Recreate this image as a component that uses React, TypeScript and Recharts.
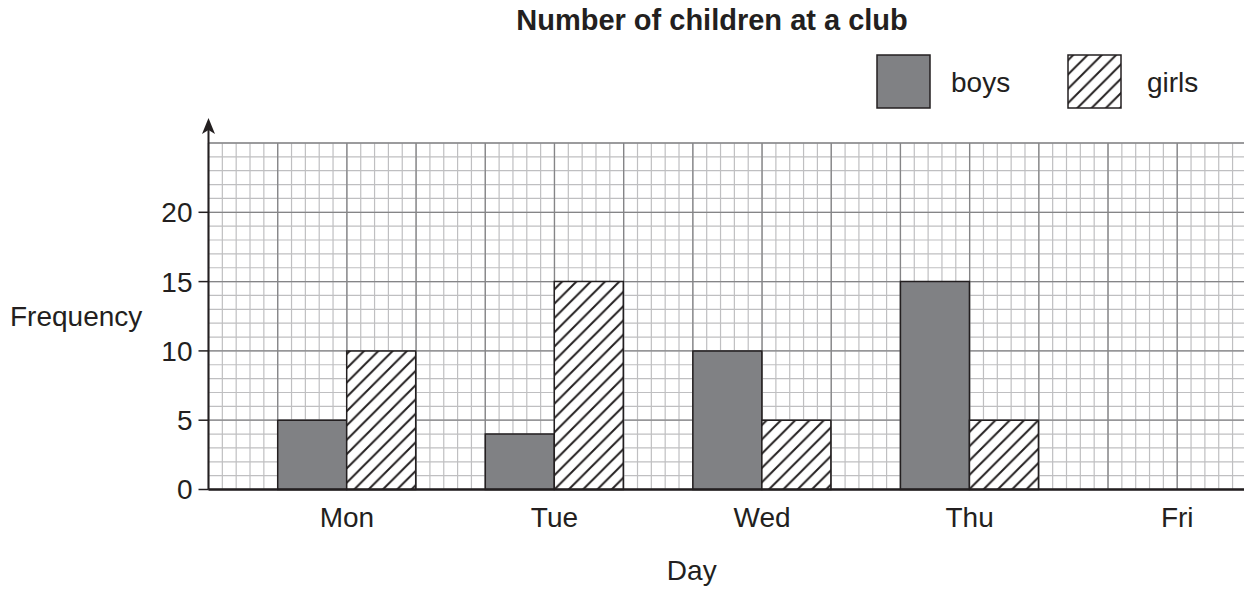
import React from 'react';
import { BarChart, Bar, XAxis, YAxis, CartesianGrid, Legend, ReferenceLine } from 'recharts';

// ---- data ----
const days = ['Mon', 'Tue', 'Wed', 'Thu', 'Fri'];
const boys = [5, 4, 10, 15, 0];
const girls = [10, 15, 5, 5, 0];
const yTicks = [0, 5, 10, 15, 20];
const seriesNames = { boys: 'boys', girls: 'girls' };

const data = days.map((d, i) => ({ day: d, boys: boys[i], girls: girls[i] }));

// grid values (in grid-column units across the plot; 15.5 columns wide)
const GRID_COLS = 15.5;
const minorX = Array.from({ length: 78 }, (_, i) => Math.round(i * 2) / 10);
const majorX = Array.from({ length: 16 }, (_, i) => i);
const minorY = Array.from({ length: 26 }, (_, i) => i);
const majorY = [0, 5, 10, 15, 20, 25];

const INK = '#231f20';
const GRAY = '#808184';
const FONT = '"Liberation Sans", Arial, Helvetica, sans-serif';

const HatchPattern = ({ id }: { id: string }) => (
  <pattern id={id} patternUnits="userSpaceOnUse" width={14.3} height={14.3}>
    <rect x={0} y={0} width={14.3} height={14.3} fill="#ffffff" />
    <path
      d="M-3.6,3.6 L3.6,-3.6 M0,14.3 L14.3,0 M10.7,17.9 L17.9,10.7"
      stroke={INK}
      strokeWidth={2}
    />
  </pattern>
);

const LegendContent = (props: any) => {
  const payload = (props.payload || []).filter((p: any) => p.dataKey === 'boys' || p.dataKey === 'girls');
  const slots = [
    { box: 2, text: 76 },
    { box: 193, text: 272 },
  ];
  return (
    <svg width={360} height={60} style={{ display: 'block', overflow: 'visible' }}>
      <defs>
        <HatchPattern id="hatchLegend" />
      </defs>
      {payload.map((p: any, i: number) => (
        <g key={p.dataKey}>
          <rect
            x={slots[i].box}
            y={2}
            width={53}
            height={53}
            fill={p.dataKey === 'boys' ? GRAY : 'url(#hatchLegend)'}
            stroke={INK}
            strokeWidth={1.5}
          />
          <text x={slots[i].text} y={39} fontSize={28} fill={INK} fontFamily={FONT}>
            {p.value}
          </text>
        </g>
      ))}
    </svg>
  );
};

const ArrowShape = (p: any) => {
  const { x1, y1, x2, y2 } = p;
  return (
    <g>
      <line x1={x1} y1={y1} x2={x2} y2={y2 + 12} stroke={INK} strokeWidth={2} />
      <path d={`M${x2},${y2} L${x2 - 6.5},${y2 + 16} L${x2},${y2 + 12} L${x2 + 6.5},${y2 + 16} Z`} fill={INK} />
    </g>
  );
};

const colGenerator = (values: number[]) => ({ offset }: any) =>
  values.map((v) => offset.left + (v * offset.width) / GRID_COLS);

export default function App() {
  return (
    <div style={{ width: 1244, height: 589, overflow: 'hidden', position: 'relative', fontFamily: FONT, background: '#fff' }}>
      <style>{`body{margin:0;}`}</style>
      <div
        style={{
          position: 'absolute',
          top: 6,
          left: 312,
          width: 800,
          textAlign: 'center',
          fontWeight: 'bold',
          fontSize: 29,
          lineHeight: '29px',
          color: INK,
          zIndex: 2,
        }}
      >
        Number of children at a club
      </div>
      <BarChart
        width={1281}
        height={589}
        data={data}
        margin={{ top: 143, right: 0, bottom: 39.5, left: 0 }}
        barCategoryGap="16.67%"
        barGap={0}
        style={{ fontFamily: FONT }}
      >
        <defs>
          <HatchPattern id="hatch" />
        </defs>
        <XAxis xAxisId="g" type="number" domain={[0, GRID_COLS]} allowDataOverflow hide />
        <CartesianGrid
          yAxisId={0}
          verticalCoordinatesGenerator={colGenerator(minorX)}
          horizontalValues={minorY}
          stroke="#bfbfc1"
          strokeWidth={1.2}
        />
        <CartesianGrid
          yAxisId={0}
          verticalCoordinatesGenerator={colGenerator(majorX)}
          horizontalValues={majorY}
          stroke="#858587"
          strokeWidth={1.3}
        />
        <XAxis
          dataKey="day"
          padding={{ left: 34.6, right: 0 }}
          interval={0}
          tickLine={false}
          axisLine={{ stroke: INK, strokeWidth: 2.5 }}
          tick={{ fontSize: 28, fill: INK }}
          tickSize={6}
          tickMargin={12}
          height={60}
          label={{ value: 'Day', position: 'bottom', offset: 10.5, dx: -53, fontSize: 28, fill: INK }}
        />
        <YAxis
          yAxisId={0}
          width={208.5}
          domain={[0, 25]}
          ticks={yTicks}
          interval={0}
          tickSize={10}
          tickMargin={6}
          tickLine={{ stroke: INK, strokeWidth: 1.5 }}
          axisLine={{ stroke: INK, strokeWidth: 2 }}
          tick={{ fontSize: 28, fill: INK }}
          label={{ value: 'Frequency', position: 'insideLeft', offset: 10, fontSize: 28, fill: INK }}
        />
        <Bar dataKey="boys" name={seriesNames.boys} fill={GRAY} stroke={INK} strokeWidth={1.5} isAnimationActive={false} />
        <Bar dataKey="girls" name={seriesNames.girls} fill="url(#hatch)" stroke={INK} strokeWidth={1.5} isAnimationActive={false} />
        <ReferenceLine
          xAxisId="g"
          yAxisId={0}
          segment={[{ x: 0, y: 25 }, { x: 0, y: 26.8 }]}
          ifOverflow="visible"
          stroke={INK}
          shape={ArrowShape}
        />
        <Legend
          layout="horizontal"
          verticalAlign="middle"
          align="center"
          wrapperStyle={{ position: 'absolute', top: 53, left: 875, width: 360, height: 60 }}
          content={LegendContent}
        />
      </BarChart>
    </div>
  );
}
